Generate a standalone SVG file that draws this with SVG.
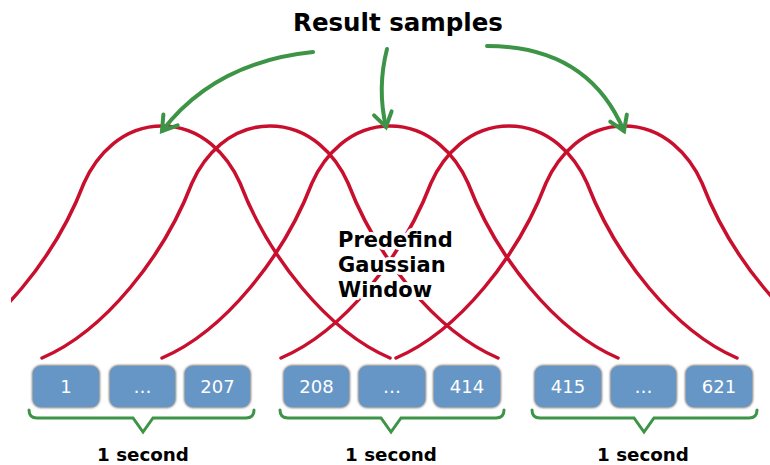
<svg xmlns="http://www.w3.org/2000/svg" width="770" height="465" viewBox="0 0 770 465">
  <defs>
    <style>
      .bell { fill: none; stroke: #c8102e; stroke-width: 3.5; stroke-linecap: round; }
      .pick { fill: none; stroke: #3d9447; stroke-width: 4; stroke-linecap: round; }
      .brace { fill: none; stroke: #3d9447; stroke-width: 3; stroke-linejoin: miter; stroke-linecap: round; }
      .box { fill: #6696c6; }
      .box-shadow { fill: #7a7a7a; filter: url(#soft); }
      .num { font-family: "DejaVu Sans", "Liberation Sans", sans-serif; font-size: 18px; fill: #ffffff; text-anchor: middle; }
      .title { font-family: "DejaVu Sans", "Liberation Sans", sans-serif; font-weight: bold; fill: #000000; }
      .halo { stroke: #ffffff; stroke-width: 6; stroke-linejoin: round; paint-order: stroke; }
    </style>
    <filter id="soft" x="-20%" y="-20%" width="140%" height="140%">
      <feGaussianBlur stdDeviation="1.3"/>
    </filter>
    <clipPath id="frame">
      <rect x="11" y="0" width="759" height="465"/>
    </clipPath>
    <!-- one bell-shaped window, peak at the origin -->
    <path id="bellShape" d="M-228,232 C-165,205 -106,130 -78,57 C-66,30 -40,0 0,0 C40,0 66,30 78,57 C106,130 165,205 228,232"/>
    <marker id="chevron" markerUnits="userSpaceOnUse" markerWidth="30" markerHeight="30" viewBox="-20 -15 30 30" refX="0" refY="0" orient="auto">
      <path d="M-14,-9 L0,0 L-14,9" fill="none" stroke="#3d9447" stroke-width="4" stroke-linecap="round" stroke-linejoin="miter"/>
    </marker>
  </defs>

  <rect width="770" height="465" fill="#ffffff"/>

  <!-- overlapping gaussian windows -->
  <g id="windows" clip-path="url(#frame)">
    <use href="#bellShape" class="bell" transform="translate(162,126)"/>
    <use href="#bellShape" class="bell" transform="translate(270,126)"/>
    <use href="#bellShape" class="bell" transform="translate(390,126)"/>
    <use href="#bellShape" class="bell" transform="translate(509,126)"/>
    <use href="#bellShape" class="bell" transform="translate(624,126)"/>
  </g>

  <g id="window-label">
    <text class="title halo" font-size="21" x="338" y="247">Predefind</text>
    <text class="title halo" font-size="21" x="338" y="272">Gaussian</text>
    <text class="title halo" font-size="21" x="338" y="297">Window</text>
  </g>

  <g id="result-label">
    <text class="title" font-size="24.5" x="398" y="31" text-anchor="middle">Result samples</text>
  </g>

  <!-- arrows from the label to the window peaks -->
  <g id="connectors">
    <path class="pick" d="M313,52 Q215,62 162,131" marker-end="url(#chevron)"/>
    <path class="pick" d="M387,49 Q377,88 386,127" marker-end="url(#chevron)"/>
    <path class="pick" d="M487,46 Q588,46 624,131" marker-end="url(#chevron)"/>
  </g>

  <!-- sample blocks -->
  <g id="s1">
    <rect class="box-shadow" x="32" y="365" width="68" height="43" rx="9"/>
    <rect class="box" x="33" y="366" width="66" height="41" rx="8"/>
    <text class="num" x="66" y="393">1</text>
  </g>
  <g id="s1-mid">
    <rect class="box-shadow" x="109" y="365" width="67" height="43" rx="9"/>
    <rect class="box" x="110" y="366" width="65" height="41" rx="8"/>
    <text class="num" x="142.5" y="393">…</text>
  </g>
  <g id="s207">
    <rect class="box-shadow" x="184" y="365" width="67" height="43" rx="9"/>
    <rect class="box" x="185" y="366" width="65" height="41" rx="8"/>
    <text class="num" x="217.5" y="393">207</text>
  </g>

  <g id="s208">
    <rect class="box-shadow" x="283" y="365" width="67" height="43" rx="9"/>
    <rect class="box" x="284" y="366" width="65" height="41" rx="8"/>
    <text class="num" x="316.5" y="393">208</text>
  </g>
  <g id="s2-mid">
    <rect class="box-shadow" x="358" y="365" width="68" height="43" rx="9"/>
    <rect class="box" x="359" y="366" width="66" height="41" rx="8"/>
    <text class="num" x="392" y="393">…</text>
  </g>
  <g id="s414">
    <rect class="box-shadow" x="433" y="365" width="68" height="43" rx="9"/>
    <rect class="box" x="434" y="366" width="66" height="41" rx="8"/>
    <text class="num" x="467" y="393">414</text>
  </g>

  <g id="s415">
    <rect class="box-shadow" x="534" y="365" width="68" height="43" rx="9"/>
    <rect class="box" x="535" y="366" width="66" height="41" rx="8"/>
    <text class="num" x="568" y="393">415</text>
  </g>
  <g id="s3-mid">
    <rect class="box-shadow" x="610" y="365" width="67" height="43" rx="9"/>
    <rect class="box" x="611" y="366" width="65" height="41" rx="8"/>
    <text class="num" x="643.5" y="393">…</text>
  </g>
  <g id="s621">
    <rect class="box-shadow" x="685" y="365" width="68" height="43" rx="9"/>
    <rect class="box" x="686" y="366" width="66" height="41" rx="8"/>
    <text class="num" x="719" y="393">621</text>
  </g>

  <!-- one-second groupings -->
  <g id="second-1">
    <path class="brace" d="M29,410 Q29,418 37,418 H133 L143,432 L153,418 H246 Q254,418 254,410"/>
    <text class="title" font-size="18.3" x="143" y="461" text-anchor="middle">1 second</text>
  </g>
  <g id="second-2">
    <path class="brace" d="M280,410 Q280,418 288,418 H381 L391,432 L401,418 H496 Q504,418 504,410"/>
    <text class="title" font-size="18.3" x="391" y="461" text-anchor="middle">1 second</text>
  </g>
  <g id="second-3">
    <path class="brace" d="M532,410 Q532,418 540,418 H634 L644,432 L654,418 H749 Q757,418 757,410"/>
    <text class="title" font-size="18.3" x="643" y="461" text-anchor="middle">1 second</text>
  </g>
</svg>
